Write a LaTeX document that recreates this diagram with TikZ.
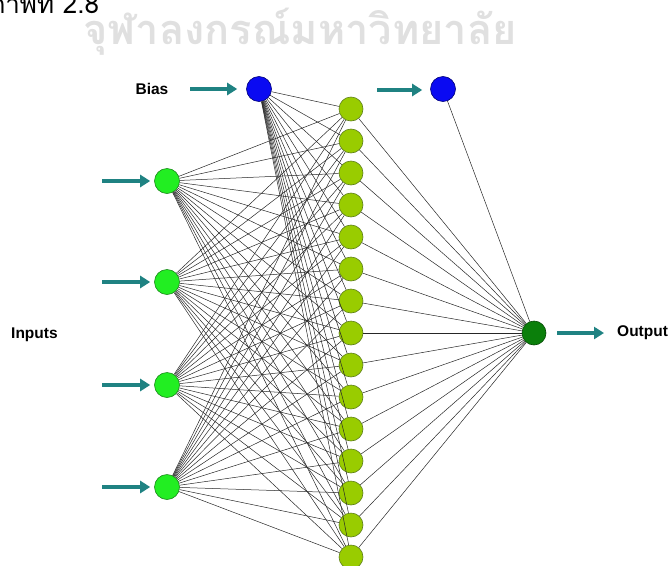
\documentclass[tikz,border=0pt]{standalone}
\usepackage{fontspec}
\setmainfont{Liberation Sans}
\newfontfamily\thaifont[Script=Thai]{Loma}
\usetikzlibrary{arrows.meta}
\definecolor{arrteal}{HTML}{1F8282}
\definecolor{biasfill}{HTML}{0A0AF2}
\definecolor{biasdraw}{HTML}{00007A}
\definecolor{infill}{HTML}{22EE22}
\definecolor{indraw}{HTML}{1A8A1A}
\definecolor{hidfill}{HTML}{99CC00}
\definecolor{hiddraw}{HTML}{5E7F1A}
\definecolor{outfill}{HTML}{0B7F0B}
\definecolor{outdraw}{HTML}{064A06}
\definecolor{wmgray}{HTML}{E0E0E0}
\tikzset{
  neuron/.style={circle, minimum size=25pt, inner sep=0pt, draw, line width=0.6pt},
  biasnode/.style={neuron, fill=biasfill, draw=biasdraw},
  innode/.style={neuron, fill=infill, draw=indraw},
  hidnode/.style={neuron, minimum size=24pt, fill=hidfill, draw=hiddraw},
  outnode/.style={neuron, minimum size=24pt, fill=outfill, draw=outdraw},
  edge/.style={draw=black!85, line width=0.5pt},
  bigarrow/.style={draw=arrteal, line width=3.8pt, -{Triangle[width=12pt,length=10pt]}},
  lbl/.style={font=\fontsize{15.5}{16}\selectfont\bfseries, inner sep=0pt}
}
\begin{document}
\begin{tikzpicture}[x=1pt,y=-1pt]
\useasboundingbox (0,0) rectangle (672,565);
% heading and watermark
\node[anchor=base west, inner sep=0pt, font=\thaifont\fontsize{26}{26}\selectfont] (head) at (-12,13) {ภาพที่ 2.8};
\node[anchor=base, inner sep=0pt, text=wmgray, font=\thaifont\fontsize{41.5}{42}\selectfont\bfseries] (wm) at (300,44) {จุฬาลงกรณ์มหาวิทยาลัย};
% nodes
\node[biasnode] (b1) at (259,89) {};
\node[biasnode] (b2) at (443,89) {};
\foreach \j/\y in {1/181,2/282,3/385,4/487}
  \node[innode] (in\j) at (167,\y) {};
\foreach \i in {1,...,15}
  \node[hidnode] (h\i) at (351,{109+32*(\i-1)}) {};
\node[outnode] (out) at (534,333) {};
% edges
\foreach \i in {1,...,15} {
  \draw[edge] (b1) -- (h\i);
  \foreach \j in {1,...,4} \draw[edge] (in\j) -- (h\i);
  \draw[edge] (h\i) -- (out);
}
\draw[edge] (b2) -- (out);
% arrows
\foreach \j/\y in {1/181,2/282,3/385,4/487} {
  \coordinate (ia\j) at (102,\y);
  \draw[bigarrow, shorten >=4pt] (ia\j) -- (in\j);
}
\coordinate (ba1) at (190,89);
\draw[bigarrow, shorten >=9pt] (ba1) -- (b1);
\coordinate (ba2) at (377,90);
\draw[bigarrow, shorten >=8pt] (ba2) -- (b2.west |- ba2);
\coordinate (oa) at (604,333);
\draw[bigarrow, shorten <=11pt] (out) -- (oa);
% labels
\node[lbl] (biaslbl) at (152,89) {Bias};
\node[lbl, anchor=west] (inlbl) at (11,335) {Inputs};
\node[lbl, anchor=west] (outlbl) at (617,333) {Output};
\end{tikzpicture}
\end{document}
